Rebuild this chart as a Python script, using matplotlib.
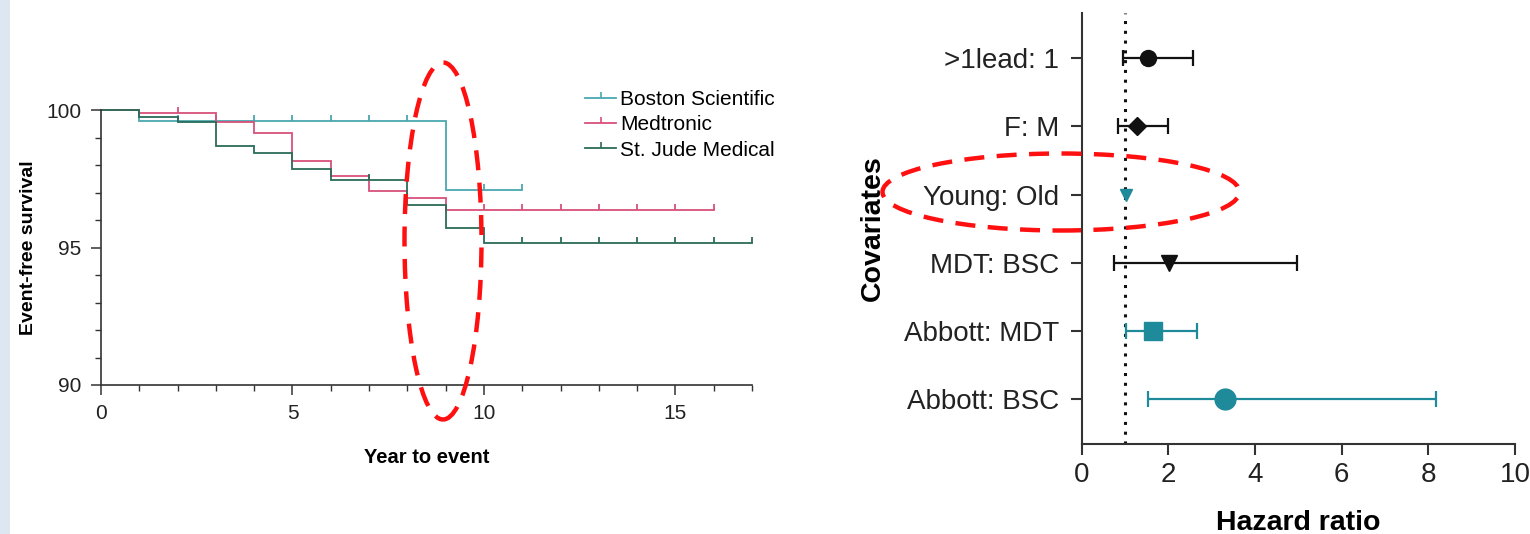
import matplotlib
matplotlib.use("Agg")
import numpy as np
import matplotlib.pyplot as plt
from matplotlib.lines import Line2D
from matplotlib.patches import Ellipse, Rectangle
from matplotlib.path import Path

plt.rcParams['font.family'] = ['Liberation Sans', 'DejaVu Sans']

# ---- Kaplan-Meier data: event times, survival after each event, censor times ----
series_names = ["Boston Scientific", "Medtronic", "St. Jude Medical"]
series_colors = ["#4aa8b0", "#d8507a", "#2b6b58"]

bsc_times = [1, 9]
bsc_surv = [99.6, 97.1]
bsc_censor = [2, 3, 4, 5, 6, 7, 8, 10, 11]

mdt_times = [1, 3, 4, 5, 6, 7, 8, 9]
mdt_surv = [99.9, 99.55, 99.15, 98.15, 97.6, 97.05, 96.8, 96.35]
mdt_censor = [2, 10, 11, 12, 13, 14, 15, 16]

sjm_times = [1, 2, 3, 4, 5, 6, 8, 9, 10]
sjm_surv = [99.75, 99.55, 98.7, 98.45, 97.85, 97.45, 96.55, 95.7, 95.15]
sjm_censor = [7, 11, 12, 13, 14, 15, 16, 17]

# ---- Hazard ratio data ----
covariates = [">1lead: 1", "F: M", "Young: Old", "MDT: BSC", "Abbott: MDT", "Abbott: BSC"]
hr = [1.54, 1.28, 1.02, 2.02, 1.64, 3.31]
ci_low = [0.95, 0.83, np.nan, 0.75, 1.02, 1.54]
ci_high = [2.58, 1.99, np.nan, 4.96, 2.66, 8.18]
hr_markers = ["o", "D", "v", "v", "s", "o"]
hr_msize = [11.5, 9, 9, 11, 12.5, 15]
hr_colors = ["#111111", "#111111", "#1e8a9a", "#111111", "#1e8a9a", "#1e8a9a"]

W, H = 1530, 534
fig = plt.figure(figsize=(W / 100, H / 100), dpi=100)
fig.patch.set_facecolor("white")
fig.add_artist(Rectangle((0, 0), 10 / W, 1, transform=fig.transFigure,
                         facecolor="#dce7f2", edgecolor="none", zorder=0))

spine_c = "#333333"
censor_marker = Path([(0, 0), (0, 1)], [Path.MOVETO, Path.LINETO])


def km_curve(times, surv, end):
    xs = [0] + list(times) + [end]
    ys = [100] + list(surv) + [surv[-1]]
    return xs, ys


def surv_at(t, times, surv):
    s = 100.0
    for tt, ss in zip(times, surv):
        if tt <= t:
            s = ss
    return s


# ---------------- Left: survival curves ----------------
axL_w, axL_h = 752 - 101, 385 - 110
axL = fig.add_axes([101 / W, 1 - 385 / H, axL_w / W, axL_h / H])
all_data = [(bsc_times, bsc_surv, bsc_censor),
            (mdt_times, mdt_surv, mdt_censor),
            (sjm_times, sjm_surv, sjm_censor)]
handles = []
for (times, surv, cens), name, col in zip(all_data, series_names, series_colors):
    end = max(cens)
    xs, ys = km_curve(times, surv, end)
    axL.step(xs, ys, where="post", color=col, lw=1.3, solid_joinstyle="miter",
             clip_on=False)
    cy = [surv_at(c, times, surv) for c in cens]
    axL.plot(cens, cy, ls="none", marker=censor_marker, markersize=8,
             markeredgewidth=1.3, color=col, clip_on=False)
    handles.append(Line2D([], [], color=col, lw=1.3, marker=censor_marker,
                          markersize=8, markeredgewidth=1.2))

axL.set_xlim(0, 17)
axL.set_ylim(90, 100)
axL.set_xticks([0, 5, 10, 15])
axL.set_xticks(np.arange(0, 18, 1), minor=True)
axL.set_yticks([90, 95, 100])
axL.set_yticks(np.arange(90, 101, 1), minor=True)
for s in ["top", "right"]:
    axL.spines[s].set_visible(False)
for s in ["left", "bottom"]:
    axL.spines[s].set_color(spine_c)
    axL.spines[s].set_linewidth(1.2)
axL.tick_params(which="major", length=7, width=1.1, color=spine_c,
                labelsize=15, pad=7, labelcolor="#222222")
axL.tick_params(which="minor", length=4.5, width=1.0, color=spine_c)
axL.set_xlabel("Year to event", fontsize=14.5, fontweight="bold", labelpad=18)
axL.set_ylabel("Event-free survival", fontsize=14, fontweight="bold")
axL.yaxis.set_label_coords((37 - 101) / axL_w, 0.5)

leg = axL.legend(handles, series_names, loc="upper left",
                 bbox_to_anchor=(484 / 651, 1 + 20 / 275), frameon=False,
                 fontsize=15, handlelength=1.5, handletextpad=0.2,
                 labelspacing=0.3, borderaxespad=0, borderpad=0)

# ---------------- Right: hazard ratios ----------------
axR_w = 1515 - 1081.7
axR = fig.add_axes([1081.7 / W, 1 - 444 / H, axR_w / W, (444 - 13) / H])
ypos = np.arange(len(covariates))
axR.axvline(1, color="#111111", ls=(0, (1, 2.2)), lw=2.2, zorder=1)
for i in range(len(covariates)):
    col = hr_colors[i]
    if not np.isnan(ci_low[i]):
        axR.errorbar([hr[i]], [ypos[i]],
                     xerr=[[hr[i] - ci_low[i]], [ci_high[i] - hr[i]]],
                     fmt="none", ecolor=col, elinewidth=1.6, capsize=6,
                     capthick=1.6, zorder=2)
    axR.plot([hr[i]], [ypos[i]], marker=hr_markers[i], markersize=hr_msize[i],
             color=col, markeredgecolor=col, ls="none", zorder=3)

axR.set_xlim(0, 10)
axR.set_ylim(len(covariates) - 1 + 0.655, -0.66)
axR.set_yticks(ypos)
axR.set_yticklabels(covariates)
axR.set_xticks([0, 2, 4, 6, 8, 10])
for s in ["top", "right"]:
    axR.spines[s].set_visible(False)
for s in ["left", "bottom"]:
    axR.spines[s].set_color(spine_c)
    axR.spines[s].set_linewidth(1.5)
axR.tick_params(axis="both", length=8, width=1.5, color=spine_c,
                labelsize=20, labelcolor="#222222")
axR.tick_params(axis="y", pad=8)
axR.tick_params(axis="x", pad=5)
axR.set_xlabel("Hazard ratio", fontsize=20.5, fontweight="bold", labelpad=16)
axR.set_ylabel("Covariates", fontsize=20.5, fontweight="bold")
axR.yaxis.set_label_coords((886 - 1081.7) / axR_w, 0.5)

# ---------------- Dashed highlight ellipses ----------------
for (cx, cy, w, h) in [(443, 241, 77, 357), (1061, 192, 357, 77)]:
    fig.add_artist(Ellipse((cx / W, 1 - cy / H), w / W, h / H,
                           transform=fig.transFigure, fill=False,
                           edgecolor="#ff1010", lw=3.2,
                           ls=(0, (4.5, 2.8)), zorder=10))

fig.savefig("out.png", dpi=100, facecolor=fig.get_facecolor())
